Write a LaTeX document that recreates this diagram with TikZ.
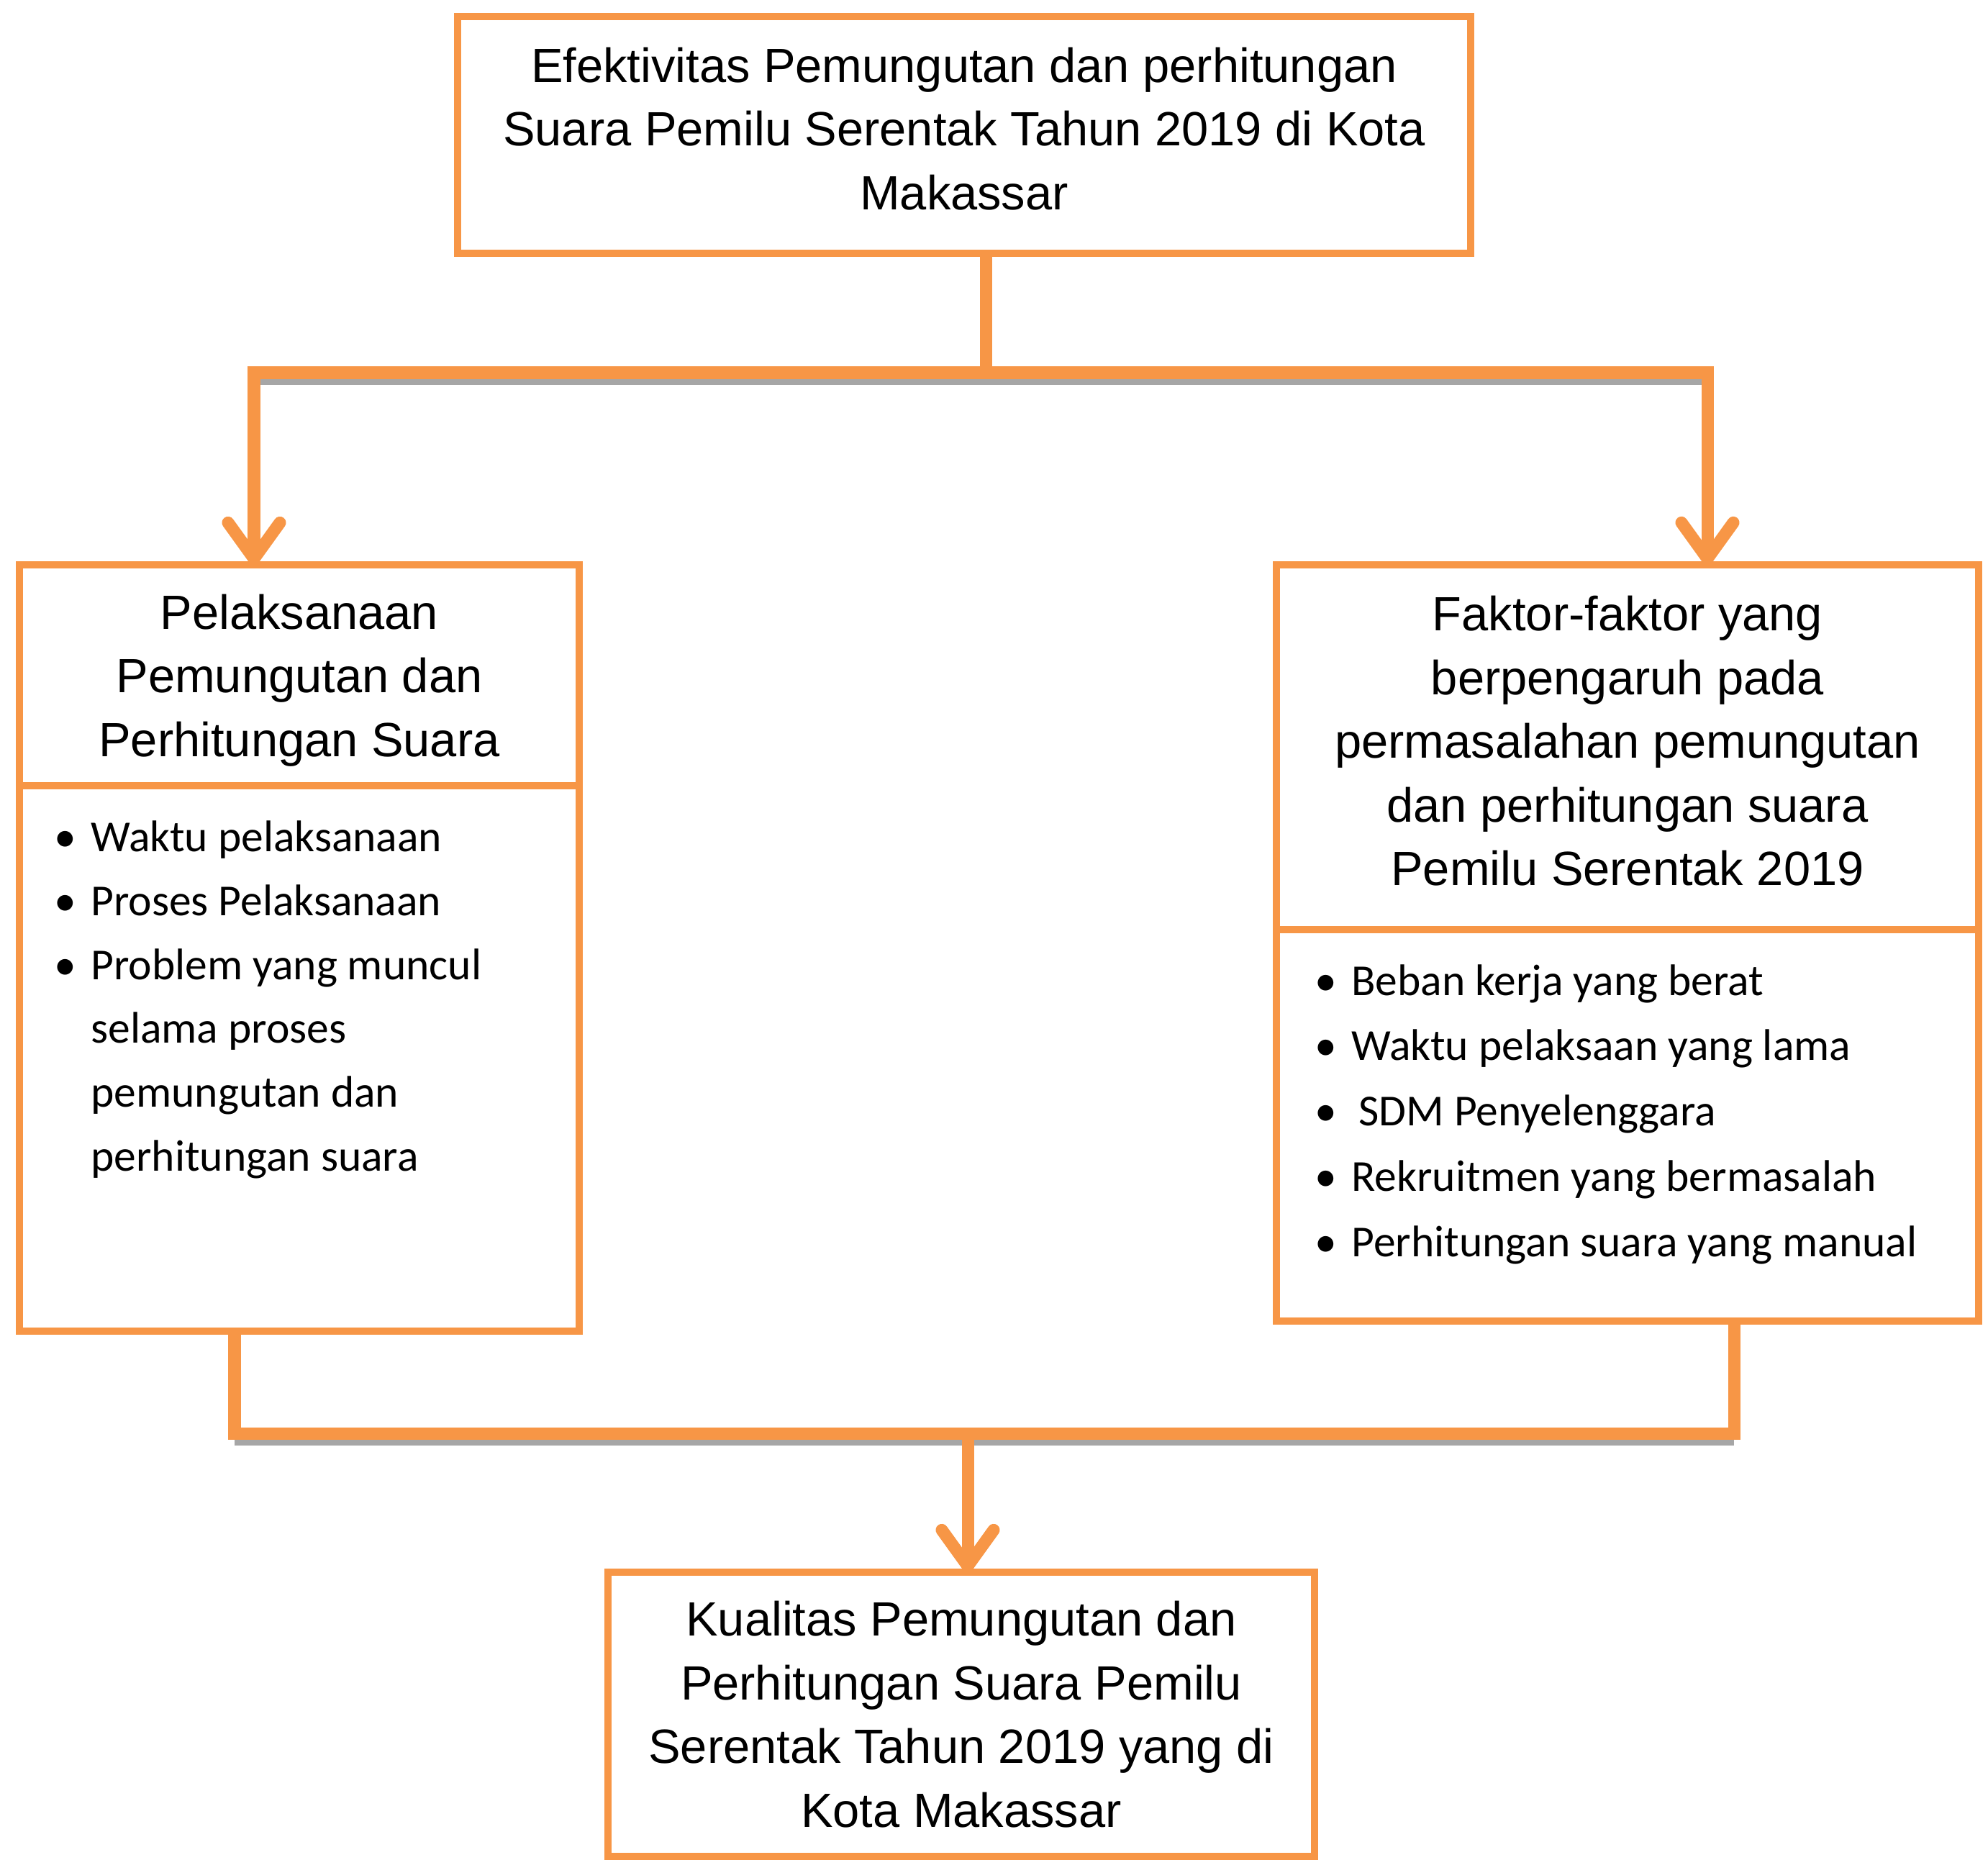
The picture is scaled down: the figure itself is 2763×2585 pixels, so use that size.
\documentclass[tikz,border=0pt]{standalone}
\usepackage{fontspec}
\setmainfont{Liberation Sans}
\newfontfamily\listfont{Carlito}
\usetikzlibrary{arrows.meta}
\definecolor{boxorange}{HTML}{F79646}
\newcommand{\blt}{\makebox[0.51cm][l]{\textbullet}}

\begin{document}
\begin{tikzpicture}[x=0.01cm,y=-0.01cm,
    conn/.style={draw=boxorange,line width=0.17cm},
    bar/.style={conn,line cap=rect},
    shade/.style={draw=black!35,line width=0.17cm},
    tip/.style={-{Straight Barb[round,length=0.5cm,width=0.72cm]}}]

  \useasboundingbox (0,0) rectangle (2763,2585);

  \begin{scope}[every node/.style={rectangle,draw=boxorange,line width=0.1cm,
      inner sep=0pt,outer sep=0pt,align=center,
      font=\fontsize{19}{25.2}\selectfont}]
    \node[minimum width=14.08cm,minimum height=3.29cm,text depth=0.18cm] (top) at (1340,187.5)
      {Efektivitas Pemungutan dan perhitungan\\Suara Pemilu Serentak Tahun 2019 di Kota\\Makassar};
    \node[minimum width=7.78cm,minimum height=3.07cm,text depth=0pt] (ltitle) at (416,938.5)
      {Pelaksanaan\\Pemungutan dan\\Perhitungan Suara};
    \node[minimum width=7.78cm,minimum height=7.58cm] (llist) at (416,1471) {};
    \node[minimum width=9.76cm,minimum height=5.07cm,text depth=0.18cm] (rtitle) at (2262,1038.5)
      {Faktor-faktor yang\\berpengaruh pada\\permasalahan pemungutan\\dan perhitungan suara\\Pemilu Serentak 2019};
    \node[minimum width=9.76cm,minimum height=5.44cm] (rlist) at (2262,1564) {};
    \node[minimum width=9.82cm,minimum height=3.95cm] (bottom) at (1336,2382.5)
      {Kualitas Pemungutan dan\\Perhitungan Suara Pemilu\\Serentak Tahun 2019 yang di\\Kota Makassar};
  \end{scope}

  % lists, placed by the baseline of their last line
  \begin{scope}[every node/.style={anchor=base west,align=left,
      font=\listfont\fontsize{17.5}{25.2}\selectfont}]
    \node (ltext) at (63,1627)
      {\blt Waktu pelaksanaan\\
       \blt Proses Pelaksanaan\\
       \blt Problem yang muncul\\
       \hspace*{0.51cm}selama proses\\
       \hspace*{0.51cm}pemungutan dan\\
       \hspace*{0.51cm}perhitungan suara};
    \node[font=\listfont\fontsize{17.5}{25.8}\selectfont] (rtext) at (1815,1746)
      {\blt Beban kerja yang berat\\
       \blt Waktu pelaksaan yang lama\\
       \blt\hspace{0.1cm}SDM Penyelenggara\\
       \blt Rekruitmen yang bermasalah\\
       \blt Perhitungan suara yang manual};
  \end{scope}

  % junctions
  \coordinate (t1) at (1370,518);
  \coordinate (la) at (353,518);
  \coordinate (ra) at (2373,518);
  \coordinate (lb) at (326,1992);
  \coordinate (rb) at (2410,1992);
  \coordinate (cb) at (1345,1992);

  % top split
  \draw[conn] (t1 |- top.south) -- (t1);
  \draw[shade] ([yshift=-0.08cm]la) -- ([yshift=-0.08cm]ra);
  \draw[bar] (la) -- (ra);
  \draw[conn,tip] (la) -- (la |- ltitle.north);
  \draw[conn,tip] (ra) -- (ra |- rtitle.north);

  % bottom merge
  \draw[conn] (lb |- llist.south) -- (lb);
  \draw[conn] (rb |- rlist.south) -- (rb);
  \draw[shade] ([yshift=-0.08cm]lb) -- ([yshift=-0.08cm]rb);
  \draw[bar] (lb) -- (rb);
  \draw[conn,tip] (cb) -- (cb |- bottom.north);

\end{tikzpicture}
\end{document}
